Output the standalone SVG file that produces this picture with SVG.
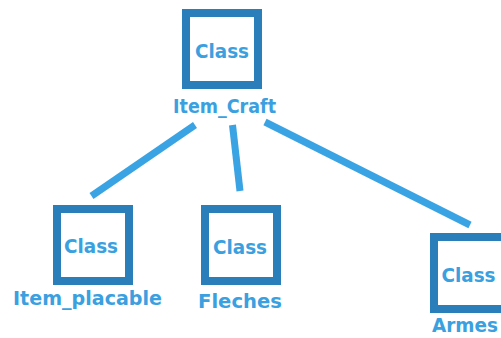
<svg xmlns="http://www.w3.org/2000/svg" width="501" height="338" viewBox="0 0 501 338">
<style>
.box{fill:#ffffff;stroke:#2a7fba;stroke-width:8}
.cls{font-family:"DejaVu Sans","Liberation Sans",sans-serif;font-weight:bold;font-size:19.5px;fill:#3aa0e0;text-anchor:middle}
.lbl{font-family:"DejaVu Sans","Liberation Sans",sans-serif;font-weight:bold;font-size:19px;fill:#3aa0e0;text-anchor:middle}
.edge{stroke:#3aa3e3;stroke-width:7;fill:none}
</style>
<rect width="501" height="338" fill="#ffffff"/>
<g id="connectors">
<line class="edge" x1="195" y1="125" x2="91.5" y2="196"/>
<line class="edge" x1="232.5" y1="125" x2="240" y2="191"/>
<line class="edge" x1="265" y1="122" x2="470" y2="225"/>
</g>
<g id="item_craft">
<rect class="box" x="186" y="13" width="72" height="72"/>
<text class="cls" x="222" y="58" textLength="54" lengthAdjust="spacingAndGlyphs">Class</text>
<text class="lbl" x="224.5" y="113" textLength="103" lengthAdjust="spacingAndGlyphs">Item_Craft</text>
</g>
<g id="item_placable">
<rect class="box" x="57" y="209" width="72" height="72"/>
<text class="cls" x="91" y="253" textLength="54" lengthAdjust="spacingAndGlyphs">Class</text>
<text class="lbl" x="87.5" y="305" textLength="149" lengthAdjust="spacingAndGlyphs">Item_placable</text>
</g>
<g id="fleches">
<rect class="box" x="205" y="209" width="72" height="72"/>
<text class="cls" x="240" y="254" textLength="54" lengthAdjust="spacingAndGlyphs">Class</text>
<text class="lbl" x="240" y="308" textLength="84" lengthAdjust="spacingAndGlyphs" style="font-size:20px">Fleches</text>
</g>
<g id="armes">
<rect class="box" x="434" y="237" width="72" height="72"/>
<text class="cls" x="468.5" y="282" textLength="54" lengthAdjust="spacingAndGlyphs">Class</text>
<text class="lbl" x="432" y="332" textLength="66" lengthAdjust="spacingAndGlyphs" style="text-anchor:start;font-size:19px">Armes</text>
</g>
</svg>
